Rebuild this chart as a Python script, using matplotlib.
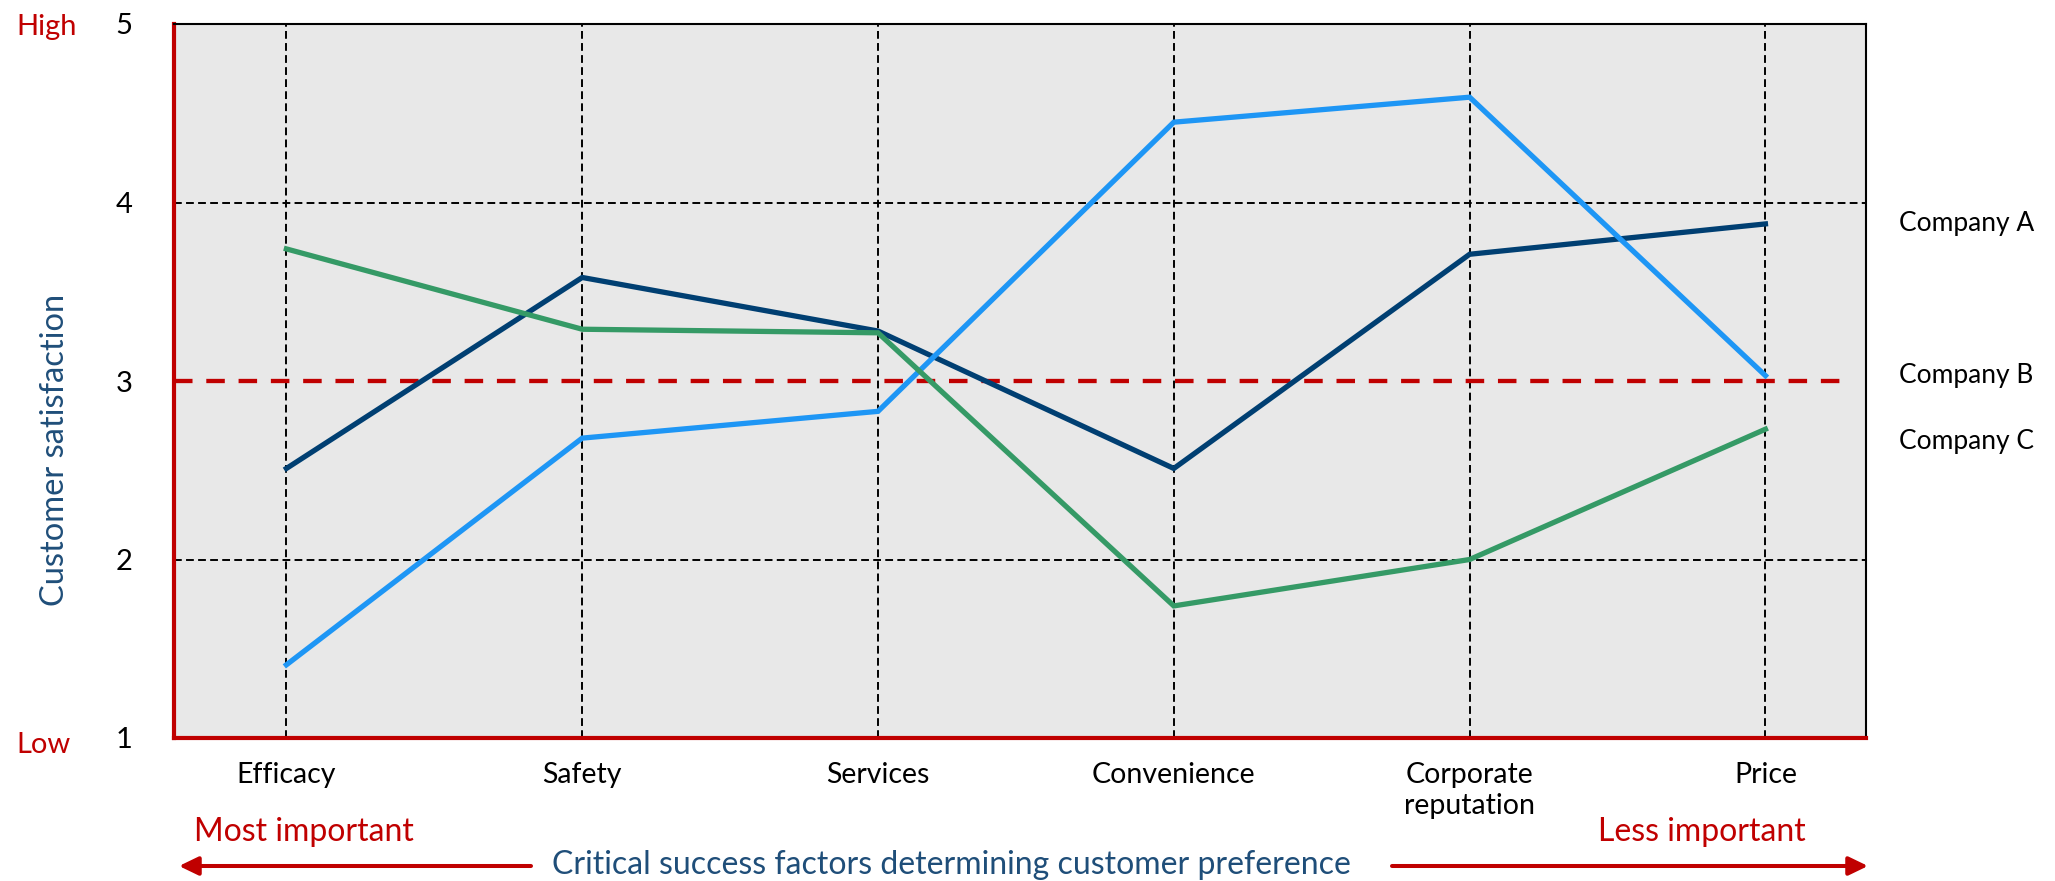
import matplotlib
matplotlib.use("Agg")
import matplotlib.pyplot as plt

plt.rcParams['font.family'] = ['Lato', 'DejaVu Sans']

# data
categories = ["Efficacy", "Safety", "Services", "Convenience", "Corporate\nreputation", "Price"]
company_a = [2.51, 3.58, 3.28, 2.51, 3.71, 3.88]
company_b = [1.41, 2.68, 2.83, 4.45, 4.59, 3.03]
company_c = [3.74, 3.29, 3.27, 1.74, 2.00, 2.73]
series_names = ["Company A", "Company B", "Company C"]
label_offsets = [0.0, 0.0, -0.07]
y_ticks = [1, 2, 3, 4, 5]
threshold = 3

RED = "#C00000"
NAVY_TEXT = "#1F4E79"
colors = ["#003F72", "#1E96F5", "#359A66"]

W, H = 2055, 881
fig = plt.figure(figsize=(W / 100, H / 100), dpi=100)
ax = fig.add_axes([174 / W, 1 - 738 / H, (1866 - 174) / W, (738 - 24) / H])
ax.set_facecolor("#E8E8E8")

x = list(range(len(categories)))
ax.set_xlim(-0.38, 5.34)
ax.set_ylim(1, 5)

# grid: dashed black verticals and horizontals at 2 and 4
for xi in x:
    ax.axvline(xi, color="black", lw=1.4, dashes=(4, 2.2), zorder=1)
for yv in y_ticks:
    if yv in (2, 4):
        ax.axhline(yv, color="black", lw=1.4, dashes=(4, 2.2), zorder=1)
ax.axhline(threshold, xmin=0, xmax=0.988, color=RED, lw=3.1, dashes=(4.3, 3.2), zorder=2)

for vals, c in zip([company_a, company_b, company_c], colors):
    ax.plot(x, vals, color=c, lw=3.8, solid_joinstyle="miter", zorder=3)

for name, vals, off in zip(series_names, [company_a, company_b, company_c], label_offsets):
    ax.text(1899 / W, vals[-1] + off, name, transform=matplotlib.transforms.blended_transform_factory(fig.transFigure, ax.transData),
            ha="left", va="center", fontsize=19, color="black")

for side in ["left", "bottom"]:
    ax.spines[side].set_color(RED)
    ax.spines[side].set_linewidth(3)
for side in ["top", "right"]:
    ax.spines[side].set_color("black")
    ax.spines[side].set_linewidth(1.5)

ax.set_yticks(y_ticks)
ax.set_yticklabels([str(v) for v in y_ticks], fontsize=21)
ax.set_xticks(x)
ax.set_xticklabels(categories, fontsize=20.5, linespacing=1.25)
ax.tick_params(axis="y", length=0, pad=30)
ax.tick_params(axis="x", length=0, pad=17)
for lab in ax.get_xticklabels():
    lab.set_verticalalignment("top")

fig.text(16 / W, 1 - 27 / H, "High", color=RED, fontsize=21, ha="left", va="center")
fig.text(16 / W, 1 - 745 / H, "Low", color=RED, fontsize=21, ha="left", va="center")
fig.text(55 / W, 1 - 450 / H, "Customer satisfaction", color=NAVY_TEXT, fontsize=23.5,
         rotation=90, ha="center", va="center")

fig.text(194 / W, 1 - 832 / H, "Most important", color=RED, fontsize=23, ha="left", va="center")
fig.text(1806 / W, 1 - 832 / H, "Less important", color=RED, fontsize=23, ha="right", va="center")
fig.text(951 / W, 1 - 865 / H, "Critical success factors determining customer preference",
         color=NAVY_TEXT, fontsize=23, ha="center", va="center")

arrow = dict(arrowstyle="-|>,head_length=0.58,head_width=0.28", color=RED, lw=2.9, shrinkA=0, shrinkB=0)
fig.add_artist(matplotlib.patches.FancyArrowPatch((531 / W, 1 - 866 / H), (179 / W, 1 - 866 / H),
                                                  transform=fig.transFigure, mutation_scale=20, **arrow))
fig.add_artist(matplotlib.patches.FancyArrowPatch((1392 / W, 1 - 866 / H), (1868 / W, 1 - 866 / H),
                                                  transform=fig.transFigure, mutation_scale=20, **arrow))

fig.savefig("out.png", dpi=100)
